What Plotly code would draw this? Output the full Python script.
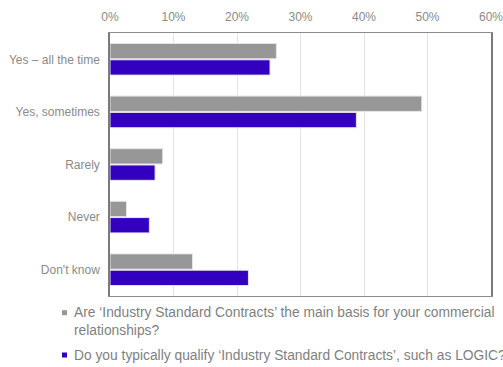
import plotly.graph_objects as go

categories = ["Yes \u2013 all the time", "Yes, sometimes", "Rarely", "Never", "Don't know"]
main_basis = [26.2, 49.1, 8.3, 2.6, 13.0]
qualify = [25.2, 38.8, 7.1, 6.2, 21.8]
legend_lines = [
    ["Are \u2018Industry Standard Contracts\u2019 the main basis for your commercial",
     "relationships?"],
    ["Do you typically qualify \u2018Industry Standard Contracts\u2019, such as LOGIC?"],
]
tick_vals = [0, 10, 20, 30, 40, 50, 60]
tick_text = [f"{v}%" for v in tick_vals]

GRAY = "#979797"
BLUE = "#3300c0"
TEXT = "#8a8a8a"
FONT = "Liberation Sans, Arial, sans-serif"

W, H = 503, 367
L, R, T, B = 110, 12, 33, 71
plot_w, plot_h = W - L - R, H - T - B


def px_x(px):
    return (px - L) / plot_w


def px_y(py):
    return (H - B - py) / plot_h


fig = go.Figure()
for vals, color in [(main_basis, GRAY), (qualify, BLUE)]:
    fig.add_trace(go.Bar(
        y=categories, x=vals, orientation="h",
        marker=dict(color=color, line=dict(color="#e6e6e6", width=1)),
        showlegend=False,
    ))

# legend below the plot: small square swatches followed by wrapped text
line_centres = [[312.7, 330.0], [355.0]]
for lines, centres, color in zip(legend_lines, line_centres, [GRAY, BLUE]):
    cy = centres[0]
    fig.add_shape(
        type="rect", xref="paper", yref="paper",
        x0=px_x(62), x1=px_x(67), y0=px_y(cy + 2.5), y1=px_y(cy - 2.5),
        fillcolor=color, line=dict(width=0),
    )
    for text, c in zip(lines, centres):
        fig.add_annotation(
            text=text, xref="paper", yref="paper",
            x=px_x(72), y=px_y(c), xanchor="left", yanchor="middle",
            showarrow=False, font=dict(size=13.8, color="#7f7f7f", family=FONT),
        )

fig.update_layout(
    width=W, height=H,
    margin=dict(l=L, r=R, t=T, b=B, autoexpand=False),
    paper_bgcolor="white", plot_bgcolor="white",
    barmode="group", bargap=0.38, bargroupgap=0.06,
    font=dict(family=FONT, color=TEXT, size=12),
    showlegend=False,
)
fig.update_xaxes(
    side="top", range=[0, 60], tickvals=tick_vals, ticktext=tick_text,
    showgrid=True, gridcolor="#e3e3e3", gridwidth=1,
    showline=True, linecolor="#8c8c8c", linewidth=1, mirror=True,
    zeroline=False, ticks="", tickfont=dict(size=12, color=TEXT),
    ticklabelstandoff=6, automargin=False, ticklabeloverflow="allow",
)
fig.update_yaxes(
    autorange="reversed", showline=True, linecolor="#7a7a7a", linewidth=1.5,
    mirror=True, ticks="", tickfont=dict(size=12, color=TEXT),
    ticklabelstandoff=6, automargin=False, ticklabeloverflow="allow",
)

fig.write_html("out.html")
